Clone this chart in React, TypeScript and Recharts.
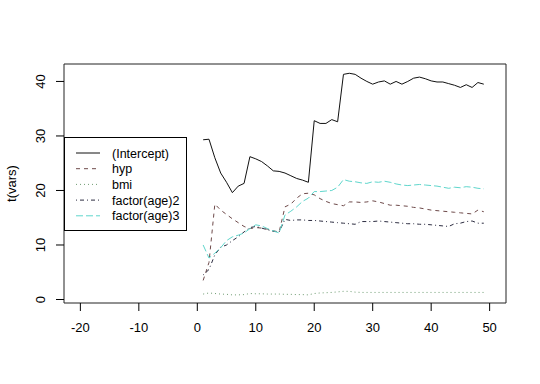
import React from 'react';
import { LineChart, Line, XAxis, YAxis, Legend, ReferenceArea } from 'recharts';

const steps = Array.from({ length: 49 }, (_, i) => i + 1);

const intercept = [
  29.3, 29.4, 26.0, 23.2, 21.5, 19.6, 20.8, 21.3, 26.2, 25.8,
  25.3, 24.5, 23.6, 23.5, 23.2, 22.7, 22.2, 21.9, 21.5, 32.8,
  32.3, 32.3, 33.0, 32.6, 41.3, 41.5, 41.3, 40.6, 40.0, 39.5,
  39.9, 40.1, 39.5, 40.0, 39.5, 40.0, 40.6, 40.8, 40.5, 40.1,
  39.9, 39.9, 39.6, 39.3, 38.9, 39.4, 38.9, 39.8, 39.5,
];
const hyp = [
  3.5, 6.8, 17.5, 16.4, 15.6, 14.8, 14.1, 13.4, 13.0, 13.2,
  13.1, 12.9, 12.6, 12.4, 17.0, 17.5, 18.6, 19.4, 19.5, 19.2,
  18.5, 18.0, 17.6, 17.4, 17.2, 17.9, 17.9, 17.8, 17.9, 18.1,
  17.9, 17.6, 17.3, 17.3, 17.2, 17.1, 16.9, 16.8, 16.6, 16.4,
  16.3, 16.2, 16.1, 16.0, 15.9, 15.8, 15.7, 16.4, 16.1,
];
const bmi = [
  1.0, 1.2, 1.1, 1.0, 0.95, 0.85, 0.85, 0.9, 1.1, 1.05,
  1.05, 1.0, 1.0, 1.0, 0.95, 0.95, 0.9, 0.9, 0.85, 1.1,
  1.2, 1.25, 1.3, 1.4, 1.5, 1.5, 1.35, 1.3, 1.3, 1.3,
  1.3, 1.3, 1.3, 1.3, 1.3, 1.3, 1.3, 1.3, 1.3, 1.3,
  1.3, 1.3, 1.3, 1.3, 1.3, 1.3, 1.3, 1.3, 1.3,
];
const age2 = [
  4.5, 5.5, 8.2, 9.6, 10.0, 10.8, 11.5, 12.4, 13.2, 13.4,
  13.1, 12.8, 12.5, 12.4, 14.7, 14.5, 14.6, 14.6, 14.5, 14.5,
  14.4, 14.3, 14.2, 14.1, 14.0, 13.9, 13.8, 14.3, 14.3, 14.3,
  14.4, 14.3, 14.2, 14.1, 14.0, 13.9, 13.9, 13.8, 13.8, 13.7,
  13.6, 13.5, 13.4, 13.9, 14.0, 14.3, 14.4, 14.0, 14.0,
];
const age3 = [
  10.0, 7.6, 8.5, 9.5, 10.8, 11.5, 11.8, 12.2, 13.0, 13.7,
  13.5, 13.0, 12.6, 12.2, 15.5, 16.2, 17.0, 18.0, 18.6, 19.8,
  19.8, 19.9, 20.0, 20.6, 22.0, 21.7, 21.6, 21.4, 21.3, 21.6,
  21.5, 21.7, 21.5, 21.2, 21.0, 20.9, 21.0, 21.1, 21.0, 20.9,
  20.8, 20.6, 20.4, 20.6, 20.5, 20.7, 20.6, 20.4, 20.3,
];

const xTicks = [-20, -10, 0, 10, 20, 30, 40, 50];
const yTicks = [0, 10, 20, 30, 40];

const series = [
  { key: 'intercept', name: '(Intercept)', color: '#111111', dash: undefined },
  { key: 'hyp', name: 'hyp', color: '#6e4a4a', dash: '4 4' },
  { key: 'bmi', name: 'bmi', color: '#6f9c72', dash: '1 3' },
  { key: 'age2', name: 'factor(age)2', color: '#2c2c40', dash: '1 3 4 3' },
  { key: 'age3', name: 'factor(age)3', color: '#5fd6cc', dash: '7 3' },
];

const data = steps.map((s, i) => ({
  step: s,
  intercept: intercept[i],
  hyp: hyp[i],
  bmi: bmi[i],
  age2: age2[i],
  age3: age3[i],
}));

const FONT = '"Liberation Sans", Arial, sans-serif';

const YTick = (props: any) => {
  const { x, y, payload } = props;
  return (
    <text
      x={x}
      y={y}
      transform={`rotate(-90, ${x}, ${y})`}
      textAnchor="middle"
      fontSize={13}
      fontFamily={FONT}
      fill="#000"
    >
      {payload.value}
    </text>
  );
};

const LegendBox = () => (
  <div
    style={{
      width: 123,
      height: 94,
      border: '1px solid #000',
      boxSizing: 'border-box',
      background: '#fff',
    }}
  >
    <svg width={121} height={92}>
      {series.map((s, i) => {
        const y = 15 + i * 15.7;
        return (
          <g key={s.key}>
            <line x1={11} x2={35} y1={y} y2={y} stroke={s.color} strokeDasharray={s.dash} />
            <text x={47} y={y + 4.5} fontSize={12.5} fontFamily={FONT} fill="#000">
              {s.name}
            </text>
          </g>
        );
      })}
    </svg>
  </div>
);

export default function App() {
  return (
    <div style={{ position: 'absolute', left: 0, top: 0, width: 540, height: 384, background: '#fff' }}>
      <LineChart
        width={540}
        height={384}
        data={data}
        margin={{ top: 64, right: 34, left: 0, bottom: 0 }}
      >
        <XAxis
          dataKey="step"
          type="number"
          domain={[-22.8, 52.8]}
          ticks={xTicks}
          allowDataOverflow
          axisLine={false}
          tickSize={8}
          tickMargin={12}
          height={81}
          tickLine={{ stroke: '#000' }}
          tick={{ fill: '#000', fontSize: 13, fontFamily: FONT }}
          interval={0}
        />
        <YAxis
          type="number"
          domain={[-0.64, 43.2]}
          ticks={yTicks}
          allowDataOverflow
          axisLine={false}
          tickSize={8}
          tickMargin={11}
          width={64}
          tickLine={{ stroke: '#000' }}
          tick={<YTick />}
          interval={0}
          label={{
            content: (p: any) => {
              const vb = p.viewBox;
              const x = vb.x + 15.5;
              const y = vb.y + vb.height / 2;
              return (
                <text
                  x={x}
                  y={y}
                  transform={`rotate(-90, ${x}, ${y})`}
                  textAnchor="middle"
                  fontSize={13}
                  fontFamily={FONT}
                  fill="#000"
                >
                  t(vars)
                </text>
              );
            },
          }}
        />
        <ReferenceArea
          x1={-22.8}
          x2={52.8}
          y1={-0.64}
          y2={43.2}
          fill="none"
          stroke="#222"
          strokeWidth={1}
          ifOverflow="visible"
        />
        {series.map((s) => (
          <Line
            key={s.key}
            dataKey={s.key}
            name={s.name}
            stroke={s.color}
            strokeWidth={1}
            strokeDasharray={s.dash}
            dot={false}
            activeDot={false}
            isAnimationActive={false}
          />
        ))}
        <Legend
          layout="vertical"
          align="center"
          verticalAlign="middle"
          content={() => <LegendBox />}
          wrapperStyle={{ left: 64, top: 137, width: 123, height: 94 }}
        />
      </LineChart>
    </div>
  );
}
